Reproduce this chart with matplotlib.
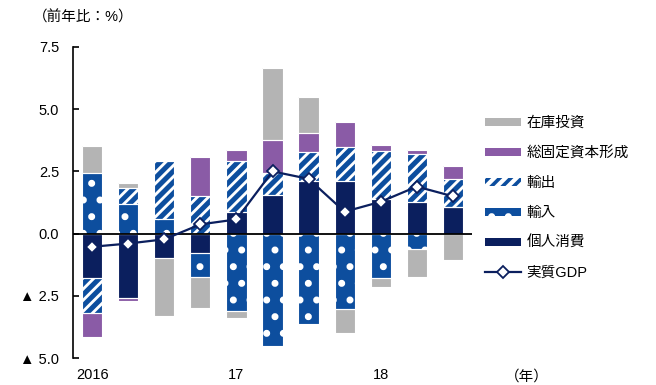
import matplotlib
matplotlib.use("Agg")
import matplotlib.pyplot as plt
import numpy as np

plt.rcParams['font.family'] = ['Liberation Sans', 'Noto Sans CJK JP', 'DejaVu Sans']
plt.rcParams['hatch.linewidth'] = 2.6

# ---- data ----
x_labels = ["2016", "", "", "", "17", "", "", "", "18", "", ""]
consumption = [-1.80, -2.60, -0.97, -0.76, 0.88, 1.55, 2.11, 2.11, 1.39, 1.26, 1.05]
imports     = [2.44, 1.18, 0.58, -1.00, -3.11, -4.50, -3.63, -3.04, -1.80, -0.62, 0.0]
exports     = [-1.40, 0.64, 2.35, 1.50, 2.05, 0.87, 1.18, 1.37, 1.92, 1.93, 1.13]
gfcf        = [-0.95, -0.10, 0.0, 1.57, 0.44, 1.33, 0.76, 1.02, 0.24, 0.19, 0.53]
inventory   = [1.07, 0.22, -2.33, -1.24, -0.27, 2.90, 1.43, -0.94, -0.36, -1.11, -1.08]
gdp         = [-0.53, -0.40, -0.23, 0.37, 0.57, 2.50, 2.20, 0.88, 1.28, 1.89, 1.50]

y_ticks = [-5.0, -2.5, 0.0, 2.5, 5.0, 7.5]
y_ticklabels = ["▲ 5.0", "▲ 2.5", "0.0", "2.5", "5.0", "7.5"]

names = ["個人消費", "輸入", "輸出", "総固定資本形成", "在庫投資"]
series = [consumption, imports, exports, gfcf, inventory]

NAVY = "#0B1F5E"
BLUE = "#0D4E9E"
PURPLE = "#8A5BA6"
GRAY = "#B4B4B4"

styles = [
    dict(color=NAVY, edgecolor=NAVY, hatch=None, hlw=2.6),
    dict(color=BLUE, edgecolor="white", hatch=".", hlw=2.6),
    dict(color="white", edgecolor=BLUE, hatch="///", hlw=3.6),
    dict(color=PURPLE, edgecolor=PURPLE, hatch=None, hlw=2.6),
    dict(color=GRAY, edgecolor=GRAY, hatch=None, hlw=2.6),
]

fig = plt.figure(figsize=(6.56, 3.85), dpi=100)
ax = fig.add_axes([73/656, 1-358/385, (472-73)/656, (358-47)/385])

x = np.arange(len(consumption))
width = 0.56
pos_bottom = np.zeros(len(x))
neg_bottom = np.zeros(len(x))
handles = {}
for name, vals, st in zip(names, series, styles):
    vals = np.array(vals, dtype=float)
    bottom = np.where(vals >= 0, pos_bottom, neg_bottom)
    with plt.rc_context({'hatch.linewidth': st["hlw"]}):
        b = ax.bar(x, vals, width, bottom=bottom, color=st["color"],
                   edgecolor=st["edgecolor"], hatch=st["hatch"], linewidth=0,
                   label=name, zorder=2)
    ax.bar(x, vals, width, bottom=bottom, fill=False, edgecolor="white",
           linewidth=0.8, zorder=2.5)
    handles[name] = b
    pos_bottom = pos_bottom + np.where(vals >= 0, vals, 0)
    neg_bottom = neg_bottom + np.where(vals < 0, vals, 0)

ax.axhline(0, color="black", linewidth=1.3, zorder=3)
ln, = ax.plot(x, gdp, color=NAVY, linewidth=1.6, marker="D", markersize=6.5,
              markerfacecolor="white", markeredgecolor=NAVY, markeredgewidth=1.3,
              label="実質GDP", zorder=4)

ax.set_xlim(-0.53, 10.53)
ax.set_ylim(-5.0, 7.5)
ax.set_yticks(y_ticks)
ax.set_yticklabels(y_ticklabels, fontsize=10.5)
ax.set_xticks(x)
ax.set_xticklabels(x_labels, fontsize=10.5)
ax.tick_params(axis="x", length=0, pad=7)
ax.tick_params(axis="y", direction="in", length=4, width=1.2, pad=10)
for s in ["top", "right", "bottom"]:
    ax.spines[s].set_visible(False)
ax.spines["left"].set_linewidth(1.2)
ax.spines["left"].set_bounds(-5.0, 7.5)

order = ["在庫投資", "総固定資本形成", "輸出", "輸入", "個人消費"]
hl = [handles[n] for n in order] + [ln]
ll = order + ["実質GDP"]
fig.legend(hl, ll, loc="center left", bbox_to_anchor=(485/656, 1-198/385),
           frameon=False, fontsize=10.5, handlelength=2.5, handleheight=0.5,
           handletextpad=0.35, labelspacing=1.1, borderpad=0, borderaxespad=0)

fig.text(33/656, 1-17/385, "（前年比：%）", fontsize=10.5, va="center", ha="left")
fig.text(505/656, 1-377/385, "（年）", fontsize=10.5, va="center", ha="left")

fig.savefig("out.png", dpi=100)
